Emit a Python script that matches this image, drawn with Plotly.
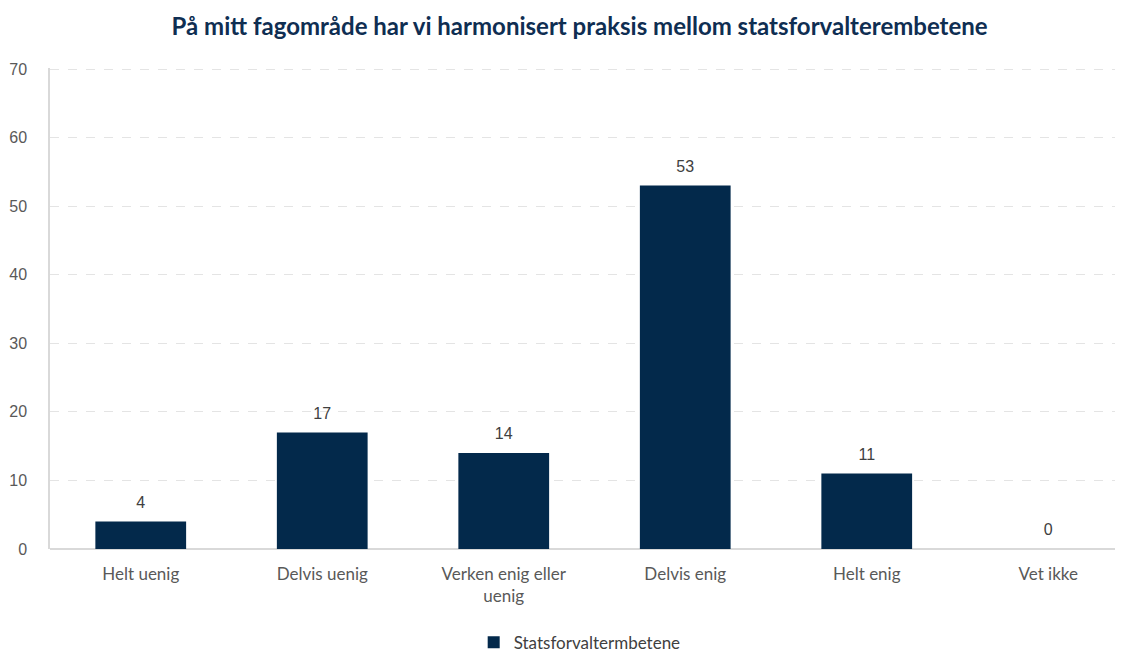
import plotly.graph_objects as go

categories = ["Helt uenig", "Delvis uenig", "Verken enig eller<br>uenig", "Delvis enig", "Helt enig", "Vet ikke"]
values = [4, 17, 14, 53, 11, 0]
series_name = "Statsforvaltermbetene"
title_text = "På mitt fagområde har vi harmonisert praksis mellom statsforvalterembetene"
y_ticks = [0, 10, 20, 30, 40, 50, 60, 70]

xpos = list(range(len(categories)))

fig = go.Figure()
fig.add_trace(go.Bar(
    x=xpos,
    y=values,
    name=series_name,
    marker=dict(color="#03294b", line=dict(width=0)),
    width=0.5,
    showlegend=True,
    hoverinfo="skip",
))
fig.add_trace(go.Scatter(
    x=xpos,
    y=values,
    mode="markers+text",
    marker=dict(size=14, opacity=0),
    text=[str(v) for v in values],
    textposition="top center",
    textfont=dict(family="Liberation Sans, Arial", size=16, color="#404040"),
    cliponaxis=False,
    showlegend=False,
    hoverinfo="skip",
))

fig.update_layout(
    width=1123, height=653,
    margin=dict(l=42, r=0, t=60, b=101),
    paper_bgcolor="white", plot_bgcolor="white",
    title=dict(text="<b>" + title_text + "</b>", x=0.509, xanchor="center", y=0.972, yanchor="middle",
               font=dict(family="Lato", size=24, color="#0f2e52")),
    showlegend=True,
    legend=dict(orientation="h", x=0.490, xanchor="center", xref="paper", y=-0.195, yanchor="middle",
                font=dict(family="Lato", size=17, color="#404040"), itemwidth=30),
)
fig.update_xaxes(
    tickmode="array", tickvals=xpos, ticktext=categories,
    range=[-0.5, 5.456], showgrid=False, ticks="", showline=False, automargin=False,
    ticklabelstandoff=13,
    tickfont=dict(family="Lato", size=17, color="#595959"),
)
fig.update_yaxes(
    range=[0, 70.15], tickvals=y_ticks, showgrid=True, gridcolor="#e4e4e4", griddash="dash", gridwidth=1,
    zeroline=True, zerolinecolor="#d9d9d9", zerolinewidth=2,
    showline=True, linecolor="#d9d9d9", linewidth=1.5, mirror=False,
    ticks="", ticklabelstandoff=18, automargin=False,
    tickfont=dict(family="Liberation Sans, Arial", size=16, color="#595959"),
)

fig.write_html("out.html")
